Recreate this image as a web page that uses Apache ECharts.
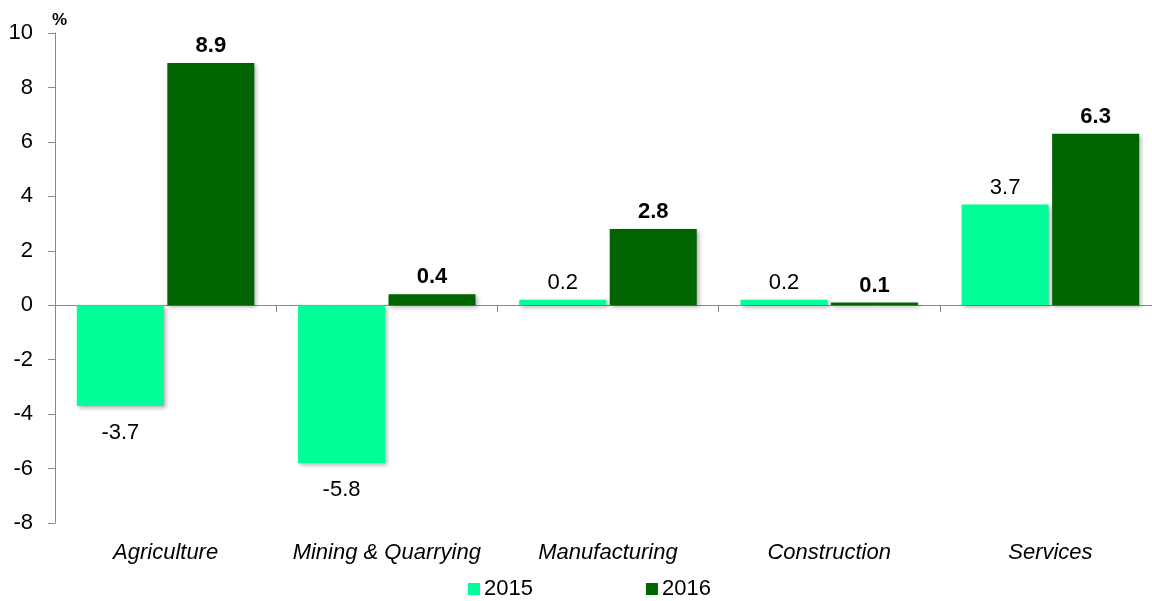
<!DOCTYPE html>
<html><head><meta charset="utf-8">
<script src="https://cdn.jsdelivr.net/npm/echarts@6/dist/echarts.min.js"></script>
<style>html,body{margin:0;padding:0;background:#fff}#c{width:1152px;height:601px}</style>
</head><body><div id="c"></div>
<script>
const categories = ['Agriculture', 'Mining & Quarrying', 'Manufacturing', 'Construction', 'Services'];
const values2015 = [-3.7, -5.8, 0.2, 0.2, 3.7];
const values2016 = [8.9, 0.4, 2.8, 0.1, 6.3];
const seriesNames = ['2015', '2016'];
const colors = ['#00FF99', '#006400'];
const font = 'Liberation Sans, Arial, sans-serif';
const shadow = {shadowBlur: 4, shadowOffsetX: 2, shadowOffsetY: 2, shadowColor: 'rgba(0,0,0,0.3)'};
function mk(vals) {
  return vals.map(v => ({
    value: v,
    label: {position: v < 0 ? 'bottom' : 'top', distance: v < 0 ? 16 : 6}
  }));
}
const chart = echarts.init(document.getElementById('c'), null, {renderer: 'canvas'});
chart.setOption({
  animation: false,
  backgroundColor: '#fff',
  grid: {left: 55, top: 33, height: 490, width: 1106, outerBoundsMode: 'none', containLabel: false},
  legend: {
    bottom: -4, left: 463, itemGap: 113, itemWidth: 12, itemHeight: 12,
    icon: 'rect',
    textStyle: {fontFamily: font, fontSize: 22, color: '#000', padding: [0, 0, 0, -1]},
    data: seriesNames
  },
  xAxis: [{
    type: 'category', data: categories,
    axisLine: {onZero: true, lineStyle: {color: '#888', width: 1}},
    axisTick: {show: true, length: 7, inside: false, lineStyle: {color: '#888'}},
    axisLabel: {show: false}
  }, {
    type: 'category', data: categories, position: 'bottom',
    axisLine: {show: false}, axisTick: {show: false},
    axisLabel: {interval: 0, fontFamily: font, fontSize: 22, fontStyle: 'italic', color: '#000', margin: 19}
  }],
  yAxis: {
    type: 'value', min: -8, max: 10, interval: 2,
    name: '%', nameLocation: 'end', nameGap: 4,
    nameTextStyle: {fontFamily: font, fontSize: 17, fontWeight: 'bold', color: '#000', align: 'left', padding: [0, 0, 0, -3]},
    axisLine: {show: true, lineStyle: {color: '#888'}},
    axisTick: {show: true, length: 7, lineStyle: {color: '#888'}},
    splitLine: {show: false},
    axisLabel: {fontFamily: font, fontSize: 22, color: '#000', margin: 22}
  },
  series: [{
    name: seriesNames[0], type: 'bar', data: mk(values2015), barWidth: 87, barGap: '4%',
    itemStyle: Object.assign({color: colors[0]}, shadow),
    label: {show: true, fontFamily: font, fontSize: 22, color: '#000'}
  }, {
    name: seriesNames[1], type: 'bar', data: mk(values2016), barWidth: 87,
    itemStyle: Object.assign({color: colors[1]}, shadow),
    label: {show: true, fontFamily: font, fontSize: 22, fontWeight: 'bold', color: '#000'}
  }]
});
</script></body></html>
